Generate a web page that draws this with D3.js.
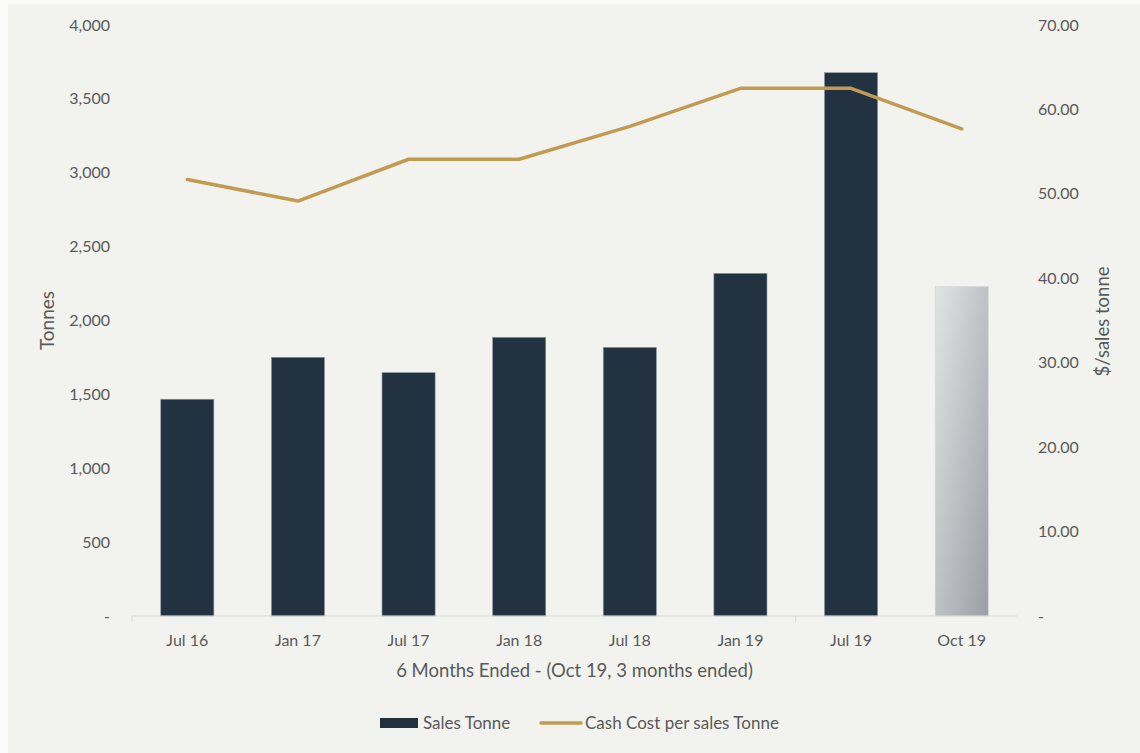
<!DOCTYPE html>
<html>
<head>
<meta charset="utf-8">
<script src="https://cdn.jsdelivr.net/npm/d3@7"></script>
<style>
  body { margin: 0; background: #fbfbf9; }
  svg { display: block; }
  text { font-family: Lato, "Open Sans", sans-serif; fill: #595959; }
</style>
</head>
<body>
<div id="chart"></div>
<script>
const periods = ["Jul 16", "Jan 17", "Jul 17", "Jan 18", "Jul 18", "Jan 19", "Jul 19", "Oct 19"];
const salesTonne = [1467, 1751, 1647, 1886, 1818, 2319, 3677, 2229];
const cashCost = [51.7, 49.15, 54.1, 54.1, 58.0, 62.5, 62.5, 57.7];
const leftTicks = [0, 500, 1000, 1500, 2000, 2500, 3000, 3500, 4000];
const rightTicks = [0, 10, 20, 30, 40, 50, 60, 70];

const width = 1140, height = 753;
const margin = { top: 25, right: 123, bottom: 137, left: 132 };

const svg = d3.select("#chart").append("svg")
    .attr("width", width)
    .attr("height", height);

svg.append("rect")
    .attr("x", 8).attr("y", 4)
    .attr("width", width - 8).attr("height", height - 4)
    .attr("fill", "#f2f3ee");

const defs = svg.append("defs");
const grad = defs.append("linearGradient")
    .attr("id", "oct")
    .attr("x1", "0%").attr("y1", "0%")
    .attr("x2", "100%").attr("y2", "100%");
grad.append("stop").attr("offset", "0%").attr("stop-color", "#e2e3e5");
grad.append("stop").attr("offset", "100%").attr("stop-color", "#9b9fa5");

const x = d3.scaleBand()
    .domain(periods)
    .range([margin.left, width - margin.right])
    .paddingInner(0.52)
    .paddingOuter(0.26);

const yL = d3.scaleLinear().domain([0, 4000]).range([height - margin.bottom, margin.top]);
const yR = d3.scaleLinear().domain([0, 70]).range([height - margin.bottom, margin.top]);

// bars
svg.append("g")
  .selectAll("rect")
  .data(periods)
  .join("rect")
    .attr("x", d => x(d))
    .attr("y", (d, i) => yL(salesTonne[i]))
    .attr("width", x.bandwidth())
    .attr("height", (d, i) => yL(0) - yL(salesTonne[i]))
    .attr("fill", (d, i) => i === periods.length - 1 ? "url(#oct)" : "#223240")
    .attr("stroke", (d, i) => i === periods.length - 1 ? "#d4d5d7" : "#8a96a3")
    .attr("stroke-width", 0.6);

// x axis line + ticks
const x0 = margin.left, x1 = width - margin.right;
const step = (x1 - x0) / periods.length;
svg.append("line")
    .attr("x1", x0).attr("x2", x1)
    .attr("y1", yL(0)).attr("y2", yL(0))
    .attr("stroke", "#d9d9d9");
[0, 6].forEach(k => {
  svg.append("line")
      .attr("x1", x0 + k * step).attr("x2", x0 + k * step)
      .attr("y1", yL(0)).attr("y2", yL(0) + 6)
      .attr("stroke", "#d9d9d9");
});

svg.append("g")
  .selectAll("text")
  .data(periods)
  .join("text")
    .attr("x", d => x(d) + x.bandwidth() / 2)
    .attr("y", yL(0) + 30)
    .attr("text-anchor", "middle")
    .attr("font-size", 16)
    .text(d => d);

// left axis labels
const fmtL = d3.format(",");
svg.append("g")
  .selectAll("text")
  .data(leftTicks)
  .join("text")
    .attr("x", 110)
    .attr("y", d => yL(d) + 5.5)
    .attr("text-anchor", "end")
    .attr("font-size", 16)
    .text(d => d === 0 ? "-" : fmtL(d));

// right axis labels
svg.append("g")
  .selectAll("text")
  .data(rightTicks)
  .join("text")
    .attr("x", 1038)
    .attr("y", d => yR(d) + 5.5)
    .attr("text-anchor", "start")
    .attr("font-size", 16)
    .text(d => d === 0 ? "-" : d.toFixed(2));

// line
const line = d3.line()
    .x((d, i) => x(periods[i]) + x.bandwidth() / 2)
    .y(d => yR(d));
svg.append("path")
    .datum(cashCost)
    .attr("d", line)
    .attr("fill", "none")
    .attr("stroke", "#c19b52")
    .attr("stroke-width", 3.5)
    .attr("stroke-linejoin", "round")
    .attr("stroke-linecap", "round");

// axis titles
svg.append("text")
    .attr("transform", `translate(54,${(yL(0) + yL(4000)) / 2}) rotate(-90)`)
    .attr("text-anchor", "middle")
    .attr("font-size", 19)
    .text("Tonnes");
svg.append("text")
    .attr("transform", `translate(1109,${(yL(0) + yL(4000)) / 2 + 1}) rotate(-90)`)
    .attr("text-anchor", "middle")
    .attr("font-size", 18.5)
    .text("$/sales tonne");
svg.append("text")
    .attr("x", (x0 + x1) / 2)
    .attr("y", 677)
    .attr("text-anchor", "middle")
    .attr("font-size", 18.5)
    .text("6 Months Ended - (Oct 19, 3 months ended)");

// legend
const lg = svg.append("g");
lg.append("rect")
    .attr("x", 380).attr("y", 718)
    .attr("width", 38).attr("height", 10)
    .attr("fill", "#223240");
lg.append("text")
    .attr("x", 423).attr("y", 729)
    .attr("font-size", 17)
    .text("Sales Tonne");
lg.append("line")
    .attr("x1", 541).attr("x2", 581)
    .attr("y1", 723).attr("y2", 723)
    .attr("stroke", "#c19b52")
    .attr("stroke-width", 3.5)
    .attr("stroke-linecap", "round");
lg.append("text")
    .attr("x", 585).attr("y", 729)
    .attr("font-size", 17)
    .text("Cash Cost per sales Tonne");
</script>
</body>
</html>
